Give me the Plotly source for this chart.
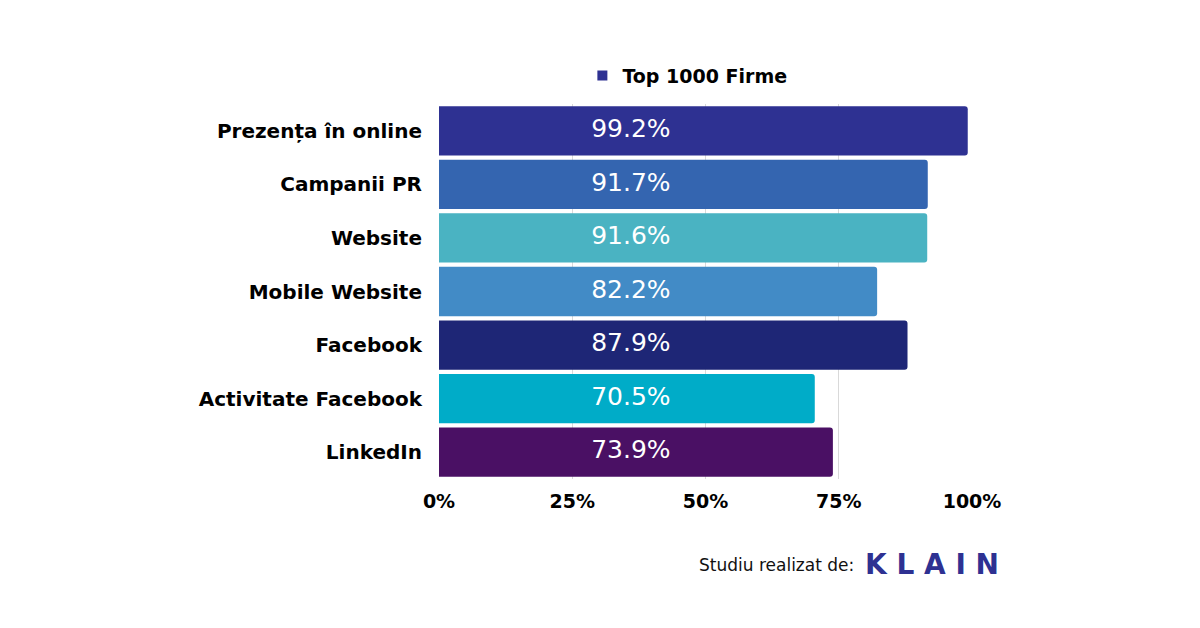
import plotly.graph_objects as go

categories = ['Prezența în online', 'Campanii PR', 'Website', 'Mobile Website',
              'Facebook', 'Activitate Facebook', 'LinkedIn']
values = [99.2, 91.7, 91.6, 82.2, 87.9, 70.5, 73.9]
bar_colors = ['#2E3192', '#3465B0', '#4AB3C2', '#428BC6', '#1E2676', '#00ACC8', '#4A1064']
series_name = 'Top 1000 Firme'
tick_vals = [0, 25, 50, 75, 100]
tick_text = ['0%', '25%', '50%', '75%', '100%']
label_pos = 36

FONT = 'DejaVu Sans'

bars = go.Bar(
    y=categories, x=values, orientation='h', name=series_name,
    marker=dict(color=bar_colors, line=dict(width=0)),
    showlegend=False, hoverinfo='skip',
)
# legend entry with a navy square
legend_item = go.Scatter(
    x=[None], y=[None], mode='markers', name=series_name,
    marker=dict(symbol='square', size=10, color='#2E3192'),
)
labels = go.Scatter(
    y=categories, x=[label_pos] * len(values), mode='text',
    text=[f'{v}%' for v in values],
    textfont=dict(family=FONT, size=25, color='white'),
    showlegend=False, hoverinfo='skip',
)

fig = go.Figure(data=[bars, labels, legend_item])
fig.update_layout(
    width=1200, height=628,
    paper_bgcolor='white', plot_bgcolor='white',
    margin=dict(l=439, r=228, t=104, b=149),
    bargap=0.08, barcornerradius=3,
    font=dict(family=FONT, color='black'),
    legend=dict(orientation='h', x=0.466, xanchor='center', y=1.025, yanchor='bottom',
                font=dict(family=FONT, size=19, color='black', weight='bold'),
                itemwidth=30),
)
fig.update_xaxes(
    range=[0, 100], tickvals=tick_vals, ticktext=tick_text,
    showgrid=True, gridcolor='#D9D9D9', gridwidth=1, zeroline=False,
    tickfont=dict(family=FONT, size=19, weight='bold'),
    ticks='outside', ticklen=5, tickcolor='white', fixedrange=True,
)
fig.update_yaxes(
    autorange='reversed', showgrid=False,
    tickfont=dict(family=FONT, size=20, weight='bold'),
    ticks='outside', ticklen=12, tickcolor='white',
)

fig.add_annotation(xref='paper', yref='paper', x=(856 - 439) / 533, y=-(565 - 479) / 375,
                   xanchor='right', yanchor='middle', showarrow=False,
                   text='Studiu realizat de:', font=dict(family=FONT, size=17, color='#111111'))
fig.add_annotation(xref='paper', yref='paper', x=(1001 - 439) / 533, y=-(564 - 479) / 375,
                   xanchor='right', yanchor='middle', showarrow=False,
                   text='K L A I N', font=dict(family=FONT, size=28, color='#2E3192', weight='bold'))

fig.write_html("out.html", config={'displayModeBar': False},
               post_script="document.body.style.margin='0';")
